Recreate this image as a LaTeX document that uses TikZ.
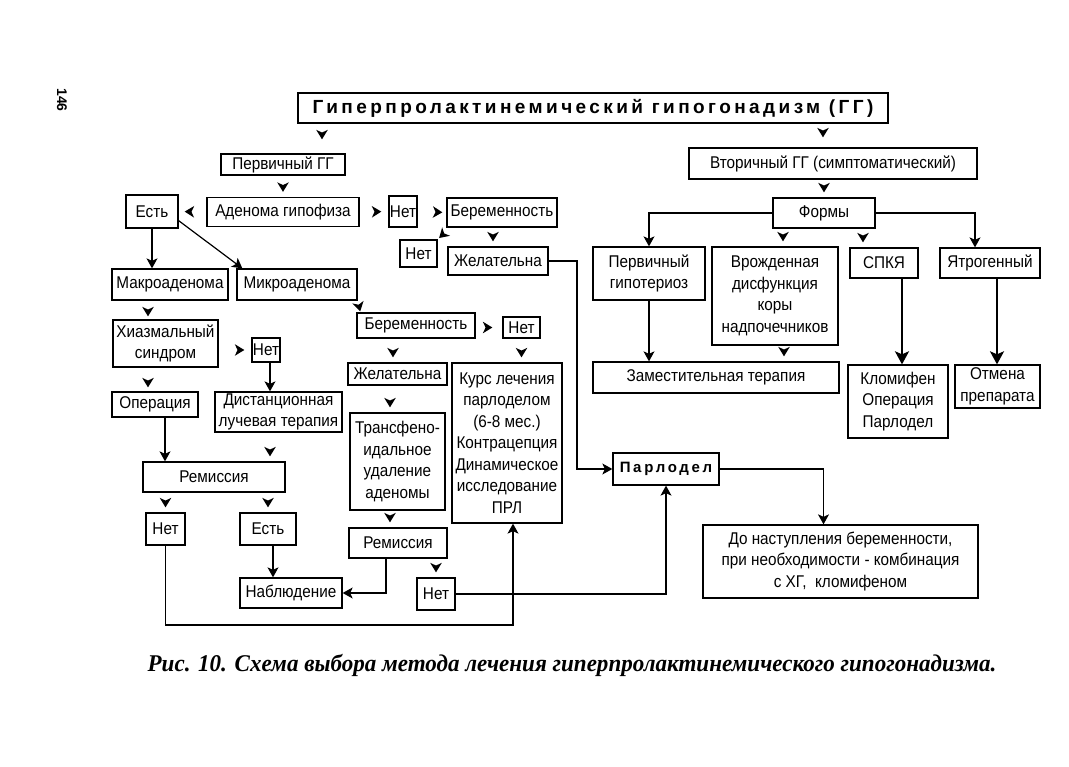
\documentclass[tikz,border=0pt]{standalone}
\usepackage{fontspec}
\setmainfont{Liberation Sans}
\newfontfamily\boxfont[FakeStretch=0.9]{Liberation Sans}
\newfontfamily\headfont[LetterSpace=18]{Liberation Sans}
\newfontfamily\capfont[FakeStretch=0.96]{Liberation Serif}
\usetikzlibrary{arrows.meta,decorations.markings}

\tikzset{
  box/.style={draw, line width=1.3pt, inner sep=1pt, align=center,
    font={\boxfont\fontsize{17}{21.5}\selectfont}},
  arr/.style={-{Stealth[length=10pt,width=11pt,inset=2.5pt]}, line width=1.2pt},
  thickarr/.style={-{Stealth[length=13pt,width=14pt,inset=3pt]}, line width=2.2pt},
  head/.style={postaction={decorate}, decoration={markings,
    mark=at position #1 with {\fill[black] (0pt,0pt) -- (-9.5pt,5.8pt) -- (-6.8pt,0pt) -- (-9.5pt,-5.8pt) -- cycle;}}},
  head/.default=-5pt
}

\begin{document}
\begin{tikzpicture}[x=1pt,y=-1pt]
\useasboundingbox (0,0) rectangle (1069,767);

\node[rotate=-90, font=\bfseries\fontsize{14}{14}\selectfont] (page) at (62,100) {146};

% header
\node[box, line width=1.7pt, minimum width=590, minimum height=30,
  font={\headfont\bfseries\fontsize{19}{22}\selectfont}] (title) at (593,108)
  {Гиперпролактинемический гипогонадизм (ГГ)};

% primary branch
\node[box, minimum width=124, minimum height=21] (prim) at (283,164.5) {Первичный ГГ};
\node[box, minimum width=152, minimum height=29] (aden) at (283,212) {Аденома гипофиза};
\node[box, minimum width=52, minimum height=33] (est1) at (152,211.5) {Есть};
\node[box, minimum width=28, minimum height=31] (net1) at (403,211.5) {Нет};
\node[box, minimum width=110, minimum height=29] (preg1) at (502,212.5) {Беременность};
\node[box, minimum width=37, minimum height=27] (net2) at (418.5,253.5) {Нет};
\node[box, minimum width=100, minimum height=28] (want1) at (498,261) {Желательна};
\node[box, minimum width=116, minimum height=31] (macro) at (170,284.5) {Макроаденома};
\node[box, minimum width=120, minimum height=31] (micro) at (297,284.5) {Микроаденома};
\node[box, minimum width=105, minimum height=47] (chiasm) at (165.5,343.5) {Хиазмальный\\синдром};
\node[box, minimum width=28, minimum height=24] (net3) at (266,350) {Нет};
\node[box, minimum width=86, minimum height=25] (oper) at (155,404.5) {Операция};
\node[box, minimum width=127, minimum height=40] (rad) at (278.5,412) {Дистанционная\\лучевая терапия};
\node[box, minimum width=118, minimum height=25] (preg2) at (416,325.5) {Беременность};
\node[box, minimum width=37, minimum height=21] (net4) at (521.5,327.5) {Нет};
\node[box, minimum width=99, minimum height=22] (want2) at (397.5,374) {Желательна};
\node[box, minimum width=110, minimum height=160] (kurs) at (507,443)
  {Курс лечения\\парлоделом\\(6-8 мес.)\\Контрацепция\\Динамическое\\исследование\\ПРЛ};
\node[box, minimum width=95, minimum height=97] (trans) at (397.5,461.5)
  {Трансфено-\\идальное\\удаление\\аденомы};
\node[box, minimum width=142, minimum height=30] (rem1) at (214,477) {Ремиссия};
\node[box, minimum width=98, minimum height=30] (rem2) at (398,543) {Ремиссия};
\node[box, minimum width=39, minimum height=32] (net5) at (165.5,529) {Нет};
\node[box, minimum width=56, minimum height=32] (est2) at (268,529) {Есть};
\node[box, minimum width=102, minimum height=30] (obs) at (291,593) {Наблюдение};
\node[box, minimum width=38, minimum height=32] (net6) at (436,594) {Нет};
\node[box, minimum width=106, minimum height=32,
  font={\headfont\bfseries\fontsize{15}{18}\selectfont}] (parl) at (666,469) {Парлодел};
\node[box, minimum width=275, minimum height=73] (dotill) at (840.5,561.5)
  {До наступления беременности,\\при необходимости - комбинация\\с ХГ,~ кломифеном};

% secondary branch
\node[box, minimum width=288, minimum height=31] (second) at (833,163.5) {Вторичный ГГ (симптоматический)};
\node[box, minimum width=102, minimum height=30] (forms) at (824,213) {Формы};
\node[box, minimum width=112, minimum height=53] (hypo) at (649,273.5) {Первичный\\гипотериоз};
\node[box, minimum width=126, minimum height=98] (cong) at (775,296)
  {Врожденная\\дисфункция\\коры\\надпочечников};
\node[box, minimum width=68, minimum height=30] (pcos) at (884,263) {СПКЯ};
\node[box, minimum width=100, minimum height=30] (iatr) at (990,263) {Ятрогенный};
\node[box, minimum width=246, minimum height=31] (repl) at (716,377.5) {Заместительная терапия};
\node[box, minimum width=100, minimum height=73] (clom) at (898,401.5) {Кломифен\\Операция\\Парлодел};
\node[box, minimum width=85, minimum height=43] (cancel) at (997.5,386.5) {Отмена\\препарата};

% caption
\node[font={\capfont\bfseries\itshape\fontsize{24}{26}\selectfont}] (caption) at (572,665)
  {Рис. 10. Схема выбора метода лечения гиперпролактинемического гипогонадизма.};

% primary connectors
\path[head=-14pt] (title.south -| 322,0) -- (prim.north -| 322,0);
\path[head] (prim.south) -- (aden.north);
\path[head=-6pt] (aden.west) -- (est1.east);
\path[head=-7pt] (aden.east) -- (net1.west);
\path[head=-4pt] (net1.east) -- (preg1.west);
\path[head=-2pt] ([xshift=4pt]preg1.south west) -- (net2.north east);
\path[head] (preg1.south -| 493,0) -- (want1.north -| 493,0);
\draw[arr] (want1.east) -| (parl.west -| 577,0) -- (parl.west);
\draw[arr] (est1.south) -- (est1.south |- macro.north);
\draw[arr] ([yshift=8pt]est1.south east) -- ([xshift=6pt]micro.north west);
\path[head=-3pt] (macro.south -| 148,0) -- (chiasm.north -| 148,0);
\path[head=-7pt] (chiasm.east |- net3.west) -- (net3.west);
\draw[arr] (net3.south -| 270,0) -- (rad.north -| 270,0);
\path[head=-4pt] (chiasm.south -| 148,0) -- (oper.north -| 148,0);
\draw[arr] (oper.south -| 165,0) -- (rem1.north -| 165,0);
\path[head] (rad.south -| 270,0) -- (rem1.north -| 270,0);
\path[head] (rem1.south -| net5.north) -- (net5.north);
\path[head] (rem1.south -| est2.north) -- (est2.north);
\draw[arr] (est2.south -| 273,0) -- (obs.north -| 273,0);
\draw[arr] (net5.south) |- (513,625) -- (kurs.south -| 513,0);
\path[head=-1pt] (micro.south east) -- ([xshift=4pt]preg2.north west);
\path[head=-10pt] (preg2.east |- net4.west) -- (net4.west);
\path[head] (preg2.south -| 393,0) -- (want2.north -| 393,0);
\path[head] (net4.south) -- (net4.south |- kurs.north);
\path[head] (want2.south -| 390,0) -- (trans.north -| 390,0);
\path[head] (trans.south -| 390,0) -- (rem2.north -| 390,0);
\path[head] (rem2.south -| net6.north) -- (net6.north);
\draw[arr] (rem2.south -| 386,0) |- (obs.east);
\draw[arr] (net6.east) -| (parl.south);
\draw[arr] (parl.east) -| ([xshift=-17pt]dotill.north);

% secondary connectors
\path[head=-10pt] (title.south -| 823,0) -- (second.north -| 823,0);
\path[head] (second.south -| forms.north) -- (forms.north);
\draw[arr] (forms.west) -| (hypo.north);
\path[head] (forms.south -| 783,0) -- (cong.north -| 783,0);
\path[head] (forms.south -| 863,0) -- (pcos.north -| 863,0);
\draw[arr] (forms.east) -| (iatr.north -| 975,0);
\draw[arr] (hypo.south) -- (hypo.south |- repl.north);
\path[head] (cong.south -| 784,0) -- (repl.north -| 784,0);
\draw[thickarr] (pcos.south -| 902,0) -- (clom.north -| 902,0);
\draw[thickarr] (iatr.south -| 997,0) -- (cancel.north -| 997,0);
\end{tikzpicture}
\end{document}
